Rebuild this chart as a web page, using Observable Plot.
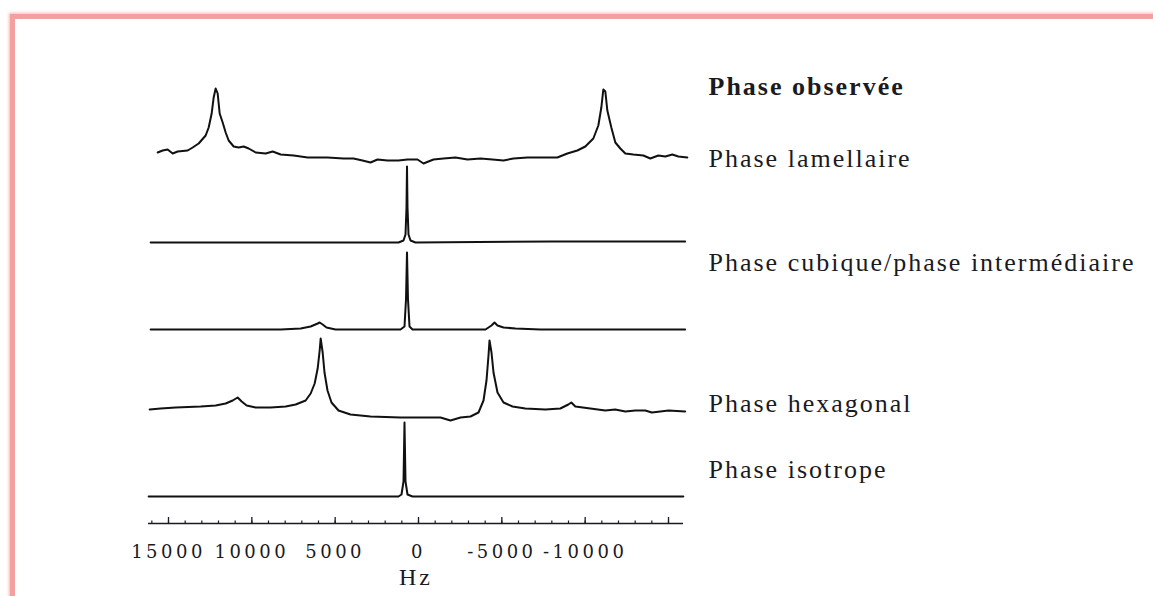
<!DOCTYPE html>
<html>
<head>
<meta charset="utf-8">
<script src="https://cdn.jsdelivr.net/npm/d3@7"></script>
<script src="https://cdn.jsdelivr.net/npm/@observablehq/plot@0.6"></script>
<style>
  html, body { margin: 0; padding: 0; background: #fff; width: 1153px; height: 596px; overflow: hidden; }
  #frame { position: absolute; left: 10px; top: 14px; width: 1300px; height: 800px;
           border-top: 5px solid #f4a0a0; border-left: 5px solid #f4a0a0;
           box-shadow: -1px -1px 3px rgba(240,150,150,0.7); }
  #chart { position: absolute; left: 0; top: 0; }
  g[aria-label="x-axis tick label"] text { letter-spacing: 3.5px; }
  g[aria-description="phase-label"] text { letter-spacing: 2px; }
  g[aria-description="unit-label"] text { letter-spacing: 3px; }
</style>
</head>
<body>
<div id="frame"></div>
<div id="chart"></div>
<script>
// ---- Data (frequency in Hz, intensity in arbitrary units) ----
const seriesNames = ["lamellaire", "etroite", "cubique", "hexagonal", "isotrope"];
const seriesOffsets = [368, 281, 194, 113, 27];

const lamellaire = [[15650,3],[15350,5],[15050,6],[14750,2],[14450,4],[13850,5],[13550,8],[13190,12],[12770,20],[12590,28],[12410,42],[12290,58],[12170,67],[12050,62],[11930,42],[11750,33],[11570,23],[11390,15],[11090,9],[10790,8],[10490,9],[10190,7],[9770,3],[9170,2],[8750,4],[8270,1],[7490,0],[6650,-2],[5460,-2],[4500,-3],[3900,-3],[3360,-5],[2880,-7],[2460,-4],[1860,-5],[1200,-5],[660,-4],[60,-4],[-300,-8],[-900,-4],[-1500,-3],[-2220,-2],[-2940,-4],[-3720,-3],[-4440,-4],[-5100,-5],[-5700,-3],[-6540,-2],[-7310,-2],[-8330,-2],[-8930,2],[-9530,5],[-10010,9],[-10490,17],[-10790,30],[-10970,48],[-11090,66],[-11210,64],[-11330,45],[-11570,28],[-11810,13],[-12110,7],[-12410,2],[-12890,1],[-13490,0],[-13910,-3],[-14390,0],[-14810,-1],[-15230,1],[-15590,-1],[-16130,-2]];

const etroite = [[16070,0],[8000,0],[1200,0],[900,2],[780,8],[720,35],[690,76],[660,35],[600,8],[480,2],[180,0],[-8000,1],[-16000,1]];

const cubique = [[16070,0],[13070,0],[8270,0],[7070,1],[6470,3],[6050,6],[5930,7],[5750,5],[5520,2],[4980,0],[1080,0],[840,3],[750,30],[690,77],[630,30],[540,3],[360,0],[-4020,0],[-4380,4],[-4560,7],[-4740,4],[-5100,2],[-5820,1],[-7310,0],[-16000,0]];

const hexagonal = [[16130,1],[15470,2],[14570,3],[13070,4],[12170,5],[11570,7],[11150,10],[10850,13],[10610,9],[10310,5],[9770,3],[8870,3],[7970,4],[7370,6],[6770,10],[6470,17],[6230,27],[6050,42],[5930,60],[5870,72],[5750,58],[5640,38],[5460,20],[5220,8],[4800,0],[4080,-4],[2880,-6],[1080,-7],[-120,-7],[-1320,-7],[-1920,-10],[-2520,-7],[-3120,-6],[-3600,-2],[-3900,10],[-4080,30],[-4200,55],[-4260,70],[-4380,58],[-4500,38],[-4740,18],[-5100,8],[-5640,4],[-6410,2],[-7610,1],[-8510,2],[-8990,6],[-9170,8],[-9410,4],[-10310,2],[-11210,0],[-11800,1],[-12410,-1],[-13010,0],[-13610,0],[-14000,-2],[-14510,-1],[-15000,0],[-16000,-1]];

const isotrope = [[16190,0],[8000,0],[1200,0],[1020,2],[900,15],[840,74],[780,15],[660,2],[360,0],[-8000,0],[-15890,0]];

const headerLabel = "Phase observée";
const headerLevel = 437;
const phaseLabels = ["Phase lamellaire", "Phase cubique/phase intermédiaire", "Phase hexagonal", "Phase isotrope"];
const labelLevels = [365, 260.5, 120, 54];

const majorTicks = [15000, 10000, 5000, 0, -5000, -10000, -15000];
const tickLabels = ["15000", "10000", "5000", "0", "-5000", "-10000", ""];
const minorTicks = [16000,15000,14000,13000,12000,11000,10000,9000,8000,7000,6000,5000,4000,3000,2000,1000,0,-1000,-2000,-3000,-4000,-5000,-6000,-7000,-8000,-9000,-10000,-11000,-12000,-13000,-14000,-15000];
const unitLabel = "Hz";

// ---- Build table ----
const spectra = [lamellaire, etroite, cubique, hexagonal, isotrope];
const rows = [];
spectra.forEach((s, k) => s.forEach(([hz, v]) => rows.push({series: seriesNames[k], hz, y: seriesOffsets[k] + v})));
const labelRows = phaseLabels.map((t, i) => ({text: t, y: labelLevels[i]}));
const labelMap = new Map(majorTicks.map((d, i) => [d, tickLabels[i]]));

const ink = "#1a1a22";
const labelStyle = {frameAnchor: "right", dx: 25, textAnchor: "start", lineAnchor: "middle",
  fontSize: 26, fontFamily: "Liberation Serif", fill: ink, ariaDescription: "phase-label"};

const chart = Plot.plot({
  width: 1153,
  height: 596,
  marginLeft: 148,
  marginRight: 470,
  marginTop: 0,
  marginBottom: 73,
  x: {domain: [16200, -15900]},
  y: {domain: [0, 523], axis: null},
  marks: [
    Plot.ruleY([0], {stroke: ink, strokeWidth: 1.3}),
    Plot.ruleX(minorTicks, {x: d => d, y1: 0, y2: 2.5, stroke: ink, strokeWidth: 1.2}),
    Plot.ruleX(majorTicks, {x: d => d, y1: 0, y2: 6, stroke: ink, strokeWidth: 1.3}),
    Plot.axisX(majorTicks, {tickSize: 0, tickPadding: 22, tickFormat: d => labelMap.get(d), label: null,
      fontSize: 18, fontFamily: "DejaVu Serif", fill: ink}),
    Plot.text([unitLabel], {frameAnchor: "bottom", dy: 61, text: d => d, fontSize: 24,
      fontFamily: "Liberation Serif", fill: ink, ariaDescription: "unit-label"}),
    Plot.line(rows, {x: "hz", y: "y", z: "series", stroke: "#111", strokeWidth: 2, strokeLinejoin: "round"}),
    Plot.text([headerLabel], {...labelStyle, y: () => headerLevel, text: d => d, fontWeight: "bold"}),
    Plot.text(labelRows, {...labelStyle, y: "y", text: "text"})
  ]
});
document.getElementById("chart").appendChild(chart);
</script>
</body>
</html>
